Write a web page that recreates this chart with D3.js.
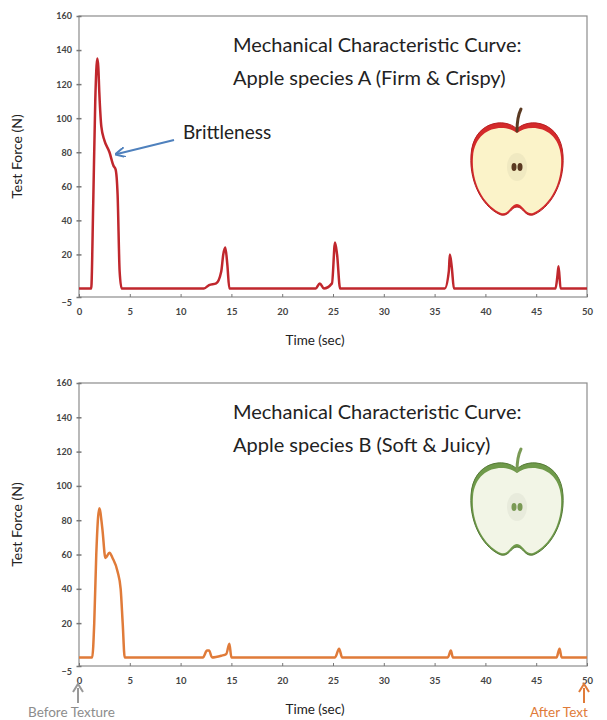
<!DOCTYPE html>
<html><head><meta charset="utf-8">
<script src="https://cdn.jsdelivr.net/npm/d3@7"></script>
<style>body{margin:0;background:#fff}text{font-family:Lato,"Open Sans",sans-serif}</style>
</head><body>
<script>
// series A: firm & crispy apple
const timeA = [0,1.2,1.4,1.6,1.8,1.9,2.0,2.2,2.5,3.0,3.4,3.6,3.8,4.0,4.2,12.3,12.8,13.5,14.0,14.2,14.4,14.6,14.8,23.3,23.7,24.1,24.9,25.2,25.4,25.7,36.0,36.4,36.5,36.7,36.9,46.9,47.1,47.2,47.4,50];
const forceA = [0,0,50,110,135,130,115,95,87,80,72,70,55,10,0,0,2,3,10,20,24,14,0,0,3,0,3,27,20,0,0,10,20,12,0,0,8,13,0,0];
// series B: soft & juicy apple
const timeB = [0,1.3,1.5,1.7,2.0,2.3,2.6,3.0,3.3,3.8,4.1,4.3,4.5,12.2,12.6,12.8,13.1,14.0,14.5,14.8,15.0,25.2,25.6,25.9,36.3,36.6,36.8,47.0,47.3,47.5,50];
const forceB = [0,0,20,60,87,75,58,61,58,50,40,20,0,0,4,4,0,1,2,8,0,0,5,0,0,4,0,0,5,0,0];
const yTicks = [-5,20,40,60,80,100,120,140,160];
const xTicks = [0,5,10,15,20,25,30,35,40,45,50];

const svg = d3.select("body").append("svg").attr("width",607).attr("height",720);

function panel(top, bottom, time, force, color, title, yLabel) {
  const x = d3.scaleLinear().domain([0,50]).range([79,587]);
  const y = d3.scaleLinear().domain([-5,160]).range([bottom, top]);
  const g = svg.append("g");
  g.append("rect").attr("x",79).attr("y",top).attr("width",508).attr("height",bottom-top)
    .attr("fill","none").attr("stroke","#8c8c8c").attr("stroke-width",1.2);
  const ya = d3.axisLeft(y).tickValues(yTicks).tickSize(5).tickSizeOuter(0);
  const yg = g.append("g").attr("transform","translate(79,0)").call(ya);
  yg.select(".domain").remove();
  yg.selectAll("line").attr("stroke","#777").attr("stroke-width",1.5).attr("transform","translate(2.5,0)");
  yg.selectAll("text").attr("font-size",9).attr("font-weight","bold").attr("fill","#444").attr("x",-7)
    .attr("dy", d => d === -5 ? "0.9em" : "0.32em");
  const xa = d3.axisBottom(x).tickValues(xTicks).tickSize(3).tickSizeOuter(0);
  const xg = g.append("g").attr("transform",`translate(0,${bottom})`).call(xa);
  xg.select(".domain").remove();
  xg.selectAll("line").attr("stroke","#777").attr("transform","translate(0,-3)");
  xg.selectAll("text").attr("font-size",9.5).attr("font-weight","bold").attr("fill","#444").attr("dy","1.3em");
  g.append("text").attr("x",315).attr("y",bottom+48).attr("text-anchor","middle")
    .attr("font-size",13.5).attr("fill","#222").text("Time (sec)");
  g.append("text").attr("transform",`translate(22,${(top+bottom)/2}) rotate(-90)`)
    .attr("text-anchor","middle").attr("font-size",14).attr("fill","#222").text(yLabel);
  const line = d3.line().x(d => x(d[0])).y(d => y(d[1])).curve(d3.curveMonotoneX);
  g.append("path").datum(d3.zip(time, force)).attr("d", line)
    .attr("fill","none").attr("stroke",color).attr("stroke-width",2.5).attr("stroke-linejoin","round");
  g.append("text").attr("x",233).attr("y",top+36).attr("font-size",20).attr("fill","#222")
    .text("Mechanical Characteristic Curve:");
  g.append("text").attr("x",233).attr("y",top+69).attr("font-size",20).attr("fill","#222").text(title);
  return {x, y, g};
}

function apple(cx, cy, skin, dark, flesh, stem) {
  const g = svg.append("g").attr("transform",`translate(${cx},${cy})`);
  const body = "M0,-36 C-12,-48 -44,-44 -46,-10 C-48,20 -32,44 -16,50 C-8,52 -6,42 0,42 C6,42 8,52 16,50 C32,44 48,20 46,-10 C44,-44 12,-48 0,-36Z";
  g.append("path").attr("d",body).attr("fill",skin).attr("stroke",dark).attr("stroke-width",1);
  g.append("path").attr("d","M0,-32 C-12,-42 -42,-39 -44,-8 C-46,20 -31,42 -16,48 C-8,50 -6,39 0,39 C6,39 8,50 16,48 C31,42 46,20 44,-8 C42,-39 12,-42 0,-32Z")
    .attr("fill",flesh);
  g.append("ellipse").attr("cx",0).attr("cy",2).attr("rx",10).attr("ry",14).attr("fill",d3.color(flesh).darker(0.12));
  g.append("ellipse").attr("cx",-3).attr("cy",2).attr("rx",2.5).attr("ry",4).attr("fill",stem);
  g.append("ellipse").attr("cx",3).attr("cy",2).attr("rx",2.5).attr("ry",4).attr("fill",stem);
  g.append("path").attr("d","M0,-34 C0,-44 1,-50 4,-56").attr("stroke",stem).attr("stroke-width",3)
    .attr("fill","none").attr("stroke-linecap","round");
}

// top panel
const pA = panel(16, 297, timeA, forceA, "#c0272d", "Apple species A (Firm & Crispy)", "Test Force  (N)");
svg.append("text").attr("x",183).attr("y",139).attr("font-size",19).attr("fill","#222").text("Brittleness");
svg.append("defs").append("marker").attr("id","ah").attr("viewBox","0 0 10 10").attr("refX",8).attr("refY",5)
  .attr("markerWidth",5).attr("markerHeight",5).attr("orient","auto")
  .append("path").attr("d","M0,0 L10,5 L0,10").attr("fill","none").attr("stroke","#4f81bd").attr("stroke-width",2);
svg.append("line").attr("x1",174).attr("y1",140).attr("x2",117).attr("y2",154)
  .attr("stroke","#4f81bd").attr("stroke-width",2).attr("marker-end","url(#ah)");
apple(517, 165, "#d42a2a", "#b81f22", "#fbf3c9", "#5a3a22");

// bottom panel
const pB = panel(383, 666, timeB, forceB, "#e07b39", "Apple species B (Soft & Juicy)", "Test Force (N)");
apple(517, 505, "#6f9a4a", "#557a36", "#f2f5e6", "#7a9a55");

// start/end markers
svg.append("line").attr("x1",78).attr("y1",703).attr("x2",78).attr("y2",688).attr("stroke","#999").attr("stroke-width",2);
svg.append("path").attr("d","M73,692 L78,684 L83,692").attr("fill","none").attr("stroke","#999").attr("stroke-width",2);
svg.append("text").attr("x",28).attr("y",717).attr("font-size",13.5).attr("fill","#8c8c8c").text("Before Texture");
svg.append("line").attr("x1",584).attr("y1",703).attr("x2",584).attr("y2",688).attr("stroke","#e07b39").attr("stroke-width",2);
svg.append("path").attr("d","M579,692 L584,684 L589,692").attr("fill","none").attr("stroke","#e07b39").attr("stroke-width",2);
svg.append("text").attr("x",530).attr("y",717).attr("font-size",13.5).attr("fill","#e07b39").text("After Text");
</script>
</body></html>
